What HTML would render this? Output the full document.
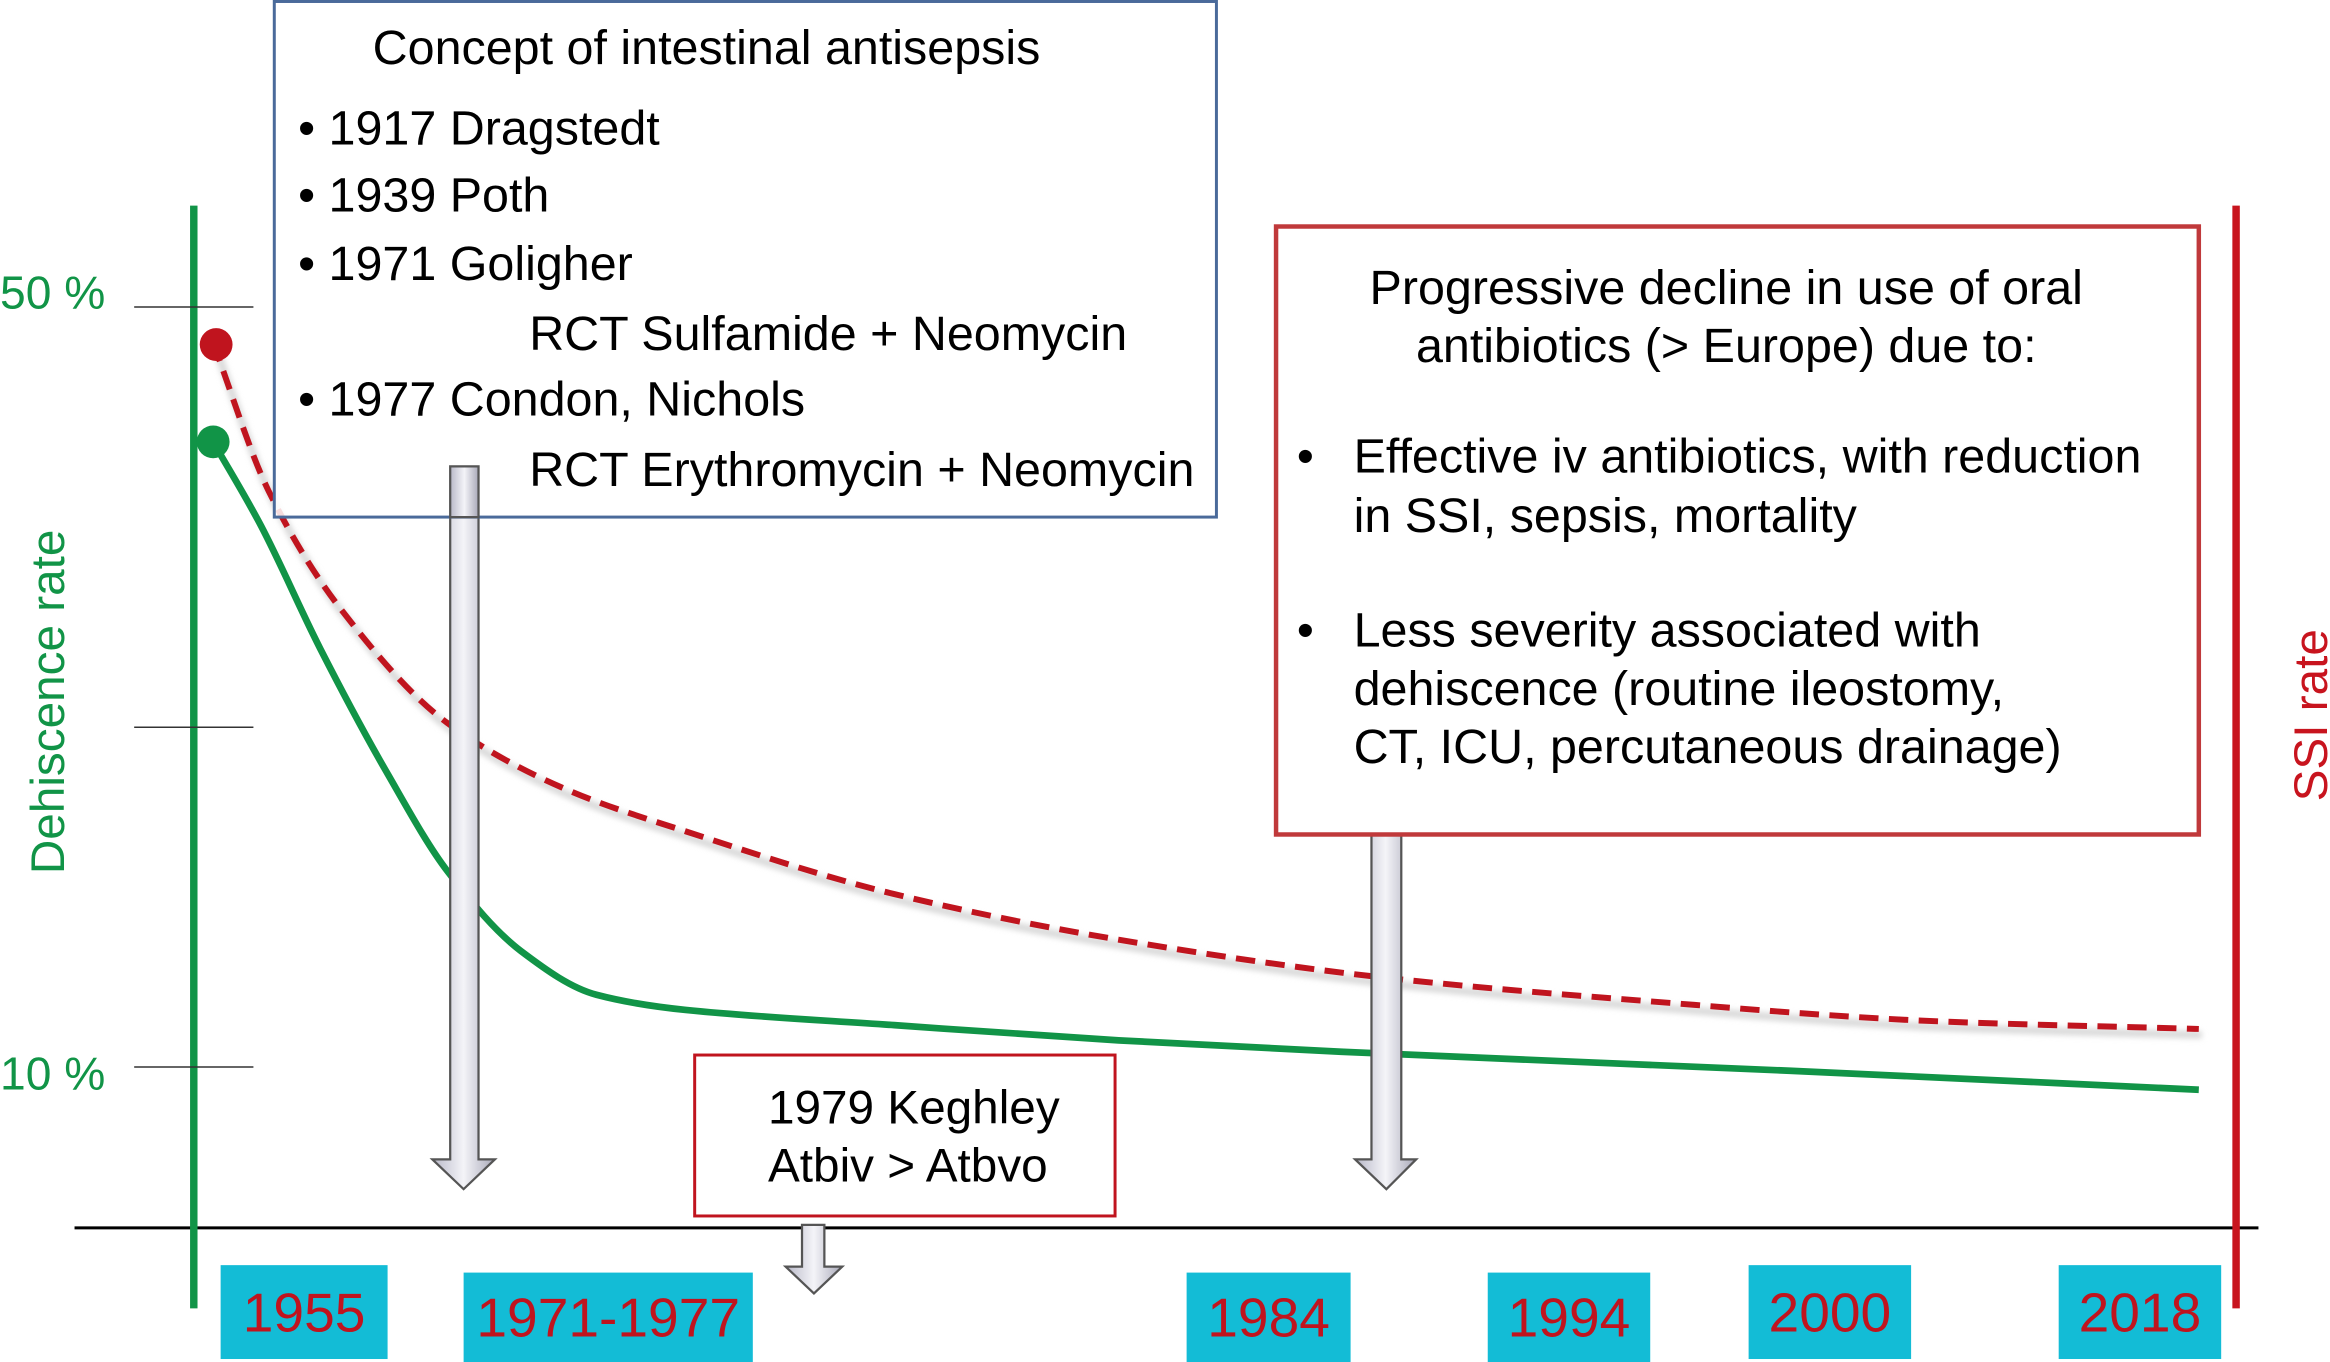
<!DOCTYPE html>
<html><head><meta charset="utf-8"><style>
html,body{margin:0;padding:0;background:#fff}
svg{display:block}
text{font-family:"Liberation Sans",sans-serif}
</style></head><body>
<svg id="chart" width="2330" height="1362" viewBox="0 0 1563 914" preserveAspectRatio="none" xmlns="http://www.w3.org/2000/svg">
<defs>
<linearGradient id="ag" x1="0" x2="1" y1="0" y2="0"><stop offset="0" stop-color="#b8b8c8"/><stop offset="0.5" stop-color="#f4f4f8"/><stop offset="1" stop-color="#a8a8b8"/></linearGradient>
<filter id="blur"><feGaussianBlur stdDeviation="2"/></filter>
</defs>
<g id="axes">
<line x1="50" y1="824" x2="1515" y2="824" stroke="#000" stroke-width="2"/>
<line x1="130" y1="138" x2="130" y2="878" stroke="#119447" stroke-width="5"/>
<line x1="1500" y1="138" x2="1500" y2="878" stroke="#c8141e" stroke-width="5"/>
<line x1="90" y1="206" x2="170" y2="206" stroke="#333" stroke-width="1"/>
<line x1="90" y1="488" x2="170" y2="488" stroke="#333" stroke-width="1"/>
<line x1="90" y1="716" x2="170" y2="716" stroke="#333" stroke-width="1"/>
<text x="0" y="207" font-size="31" fill="#119447">50 %</text>
<text x="0" y="731" font-size="31" fill="#119447">10 %</text>
<text transform="translate(43,471) rotate(-90)" text-anchor="middle" font-size="32" fill="#119447">Dehiscence rate</text>
<text transform="translate(1561,480) rotate(-90)" text-anchor="middle" font-size="32" fill="#c8141e">SSI rate</text>
</g>
<g id="series"></g>
<g>
<path d="M302 313 H321 V778 H332 L311 798 L290 778 H302 Z" fill="url(#ag)" stroke="#555" stroke-width="1.5"/>
</g>
<g>
<path d="M920 540 H940 V778 H950 L930 798 L909 778 H920 Z" fill="url(#ag)" stroke="#555" stroke-width="1.5"/>
</g>
<g>
<path d="M538 822 H553 V850 H565 L546 868 L527 850 H538 Z" fill="url(#ag)" stroke="#555" stroke-width="1.5"/>
</g>
<g>
<rect x="184" y="1" width="632" height="346" fill="#fff" fill-opacity="0.85" stroke="#4a6a9a" stroke-width="2"/>
<path d="M302 313 H321 V347 H302 Z" fill="url(#ag)" stroke="#555" stroke-width="1.5"/>
<g font-size="32.5" fill="#000">
<text x="250" y="43">Concept of intestinal antisepsis</text>
<text x="200" y="97">• 1917 Dragstedt</text>
<text x="200" y="142">• 1939 Poth</text>
<text x="200" y="188">• 1971 Goligher</text>
<text x="355" y="235">RCT Sulfamide + Neomycin</text>
<text x="200" y="279">• 1977 Condon, Nichols</text>
<text x="355" y="326">RCT Erythromycin + Neomycin</text>
</g></g>
<g>
<rect x="856" y="152" width="619" height="408" fill="#fff" stroke="#c0393b" stroke-width="3"/>
<g font-size="32.5" fill="#000">
<text x="1158" y="204" text-anchor="middle">Progressive decline in use of oral</text>
<text x="1158" y="243" text-anchor="middle">antibiotics (&gt; Europe) due to:</text>
<text x="870" y="317">•</text>
<text x="908" y="317">Effective iv antibiotics, with reduction</text>
<text x="908" y="357">in SSI, sepsis, mortality</text>
<text x="870" y="434">•</text>
<text x="908" y="434">Less severity associated with</text>
<text x="908" y="473">dehiscence (routine ileostomy,</text>
<text x="908" y="512">CT, ICU, percutaneous drainage)</text>
</g></g>
<g>
<rect x="466" y="708" width="282" height="108" fill="#fff" stroke="#c0141e" stroke-width="2"/>
<text x="613" y="754" text-anchor="middle" font-size="32">1979 Keghley</text>
<text x="609" y="793" text-anchor="middle" font-size="32">Atbiv &gt; Atbvo</text>
</g>
<g id="years"></g>
</svg>
<script>
const greenT=[0,2.4,5.4,8.8,11.8,15.5,19.3,23.8,34.3,45.6,56.8,79.4,100];
const greenV=[42.9,38.5,32.0,25.4,20.3,16.1,13.8,13.0,12.2,11.4,10.8,9.8,8.8];
const redT=[0,2.8,6.5,11.8,17.8,23.8,34.3,45.6,59,71.8,86.9,100];
const redV=[48.1,40.3,34.0,28.1,24.6,22.4,19.1,16.7,14.7,13.5,12.4,12.0];
const yearLabels=["1955","1971-1977","1984","1994","2000","2018"];
const NS="http://www.w3.org/2000/svg";
function xs(t){return 143+t*13.32;}
function ys(v){return 206+(50-v)*12.75;}
function smooth(T,V){
  const p=T.map((t,i)=>[xs(t),ys(V[i])]);
  const n=p.length,d=[],m=[];
  for(let i=0;i<n-1;i++)d.push((p[i+1][1]-p[i][1])/(p[i+1][0]-p[i][0]));
  for(let i=0;i<n;i++){
    if(i===0)m.push(d[0]);else if(i===n-1)m.push(d[n-2]);
    else m.push(d[i-1]*d[i]<=0?0:2/(1/d[i-1]+1/d[i]));
  }
  let s="M"+p[0][0]+" "+p[0][1];
  for(let i=0;i<n-1;i++){
    const h=(p[i+1][0]-p[i][0])/3;
    s+=` C${p[i][0]+h} ${p[i][1]+m[i]*h} ${p[i+1][0]-h} ${p[i+1][1]-m[i+1]*h} ${p[i+1][0]} ${p[i+1][1]}`;
  }
  return s;
}
const g=document.getElementById('series');
const sh=document.createElementNS(NS,'path');
sh.setAttribute('d',smooth(redT,redV));
sh.setAttribute('fill','none');sh.setAttribute('stroke','#d8d8d8');sh.setAttribute('stroke-width','5');sh.setAttribute('transform','translate(2,4)');sh.setAttribute('filter','url(#blur)');


g.appendChild(sh);
const gl=document.createElementNS(NS,'path');
gl.setAttribute('d',smooth(greenT,greenV));
gl.setAttribute('fill','none');gl.setAttribute('stroke','#119447');gl.setAttribute('stroke-width','4.5');


g.appendChild(gl);
const rl=document.createElementNS(NS,'path');
rl.setAttribute('d',smooth(redT,redV));
rl.setAttribute('fill','none');rl.setAttribute('stroke','#c0141e');rl.setAttribute('stroke-width','4');rl.setAttribute('stroke-dasharray','13 7');


g.appendChild(rl);
const gd=document.createElementNS(NS,'circle');
gd.setAttribute('cx',xs(greenT[0]));gd.setAttribute('cy',ys(greenV[0]));gd.setAttribute('r','11');gd.setAttribute('fill','#119447');


g.appendChild(gd);
const rd=document.createElementNS(NS,'circle');
rd.setAttribute('cx',xs(redT[0])+2);rd.setAttribute('cy',ys(redV[0])+1);rd.setAttribute('r','11');rd.setAttribute('fill','#c0141e');


g.appendChild(rd);
const boxes=[[148,849,112,63],[311,854,194,60],[796,854,110,60],[998,854,109,60],[1173,849,109,63],[1381,849,109,63]];
const yg=document.getElementById('years');
yearLabels.forEach((lab,i)=>{
  const b=boxes[i];
  const r=document.createElementNS(NS,'rect');
  r.setAttribute('x',b[0]);r.setAttribute('y',b[1]);r.setAttribute('width',b[2]);r.setAttribute('height',b[3]);r.setAttribute('fill','#13bcd6');
  
  
  yg.appendChild(r);
  const t=document.createElementNS(NS,'text');
  t.setAttribute('x',b[0]+b[2]/2);t.setAttribute('y',b[1]+b[3]/2+13);t.setAttribute('text-anchor','middle');t.setAttribute('font-size','37');t.setAttribute('fill','#c0141e');
  t.textContent=lab;
  
  
  yg.appendChild(t);
});
</script>
</body></html>
